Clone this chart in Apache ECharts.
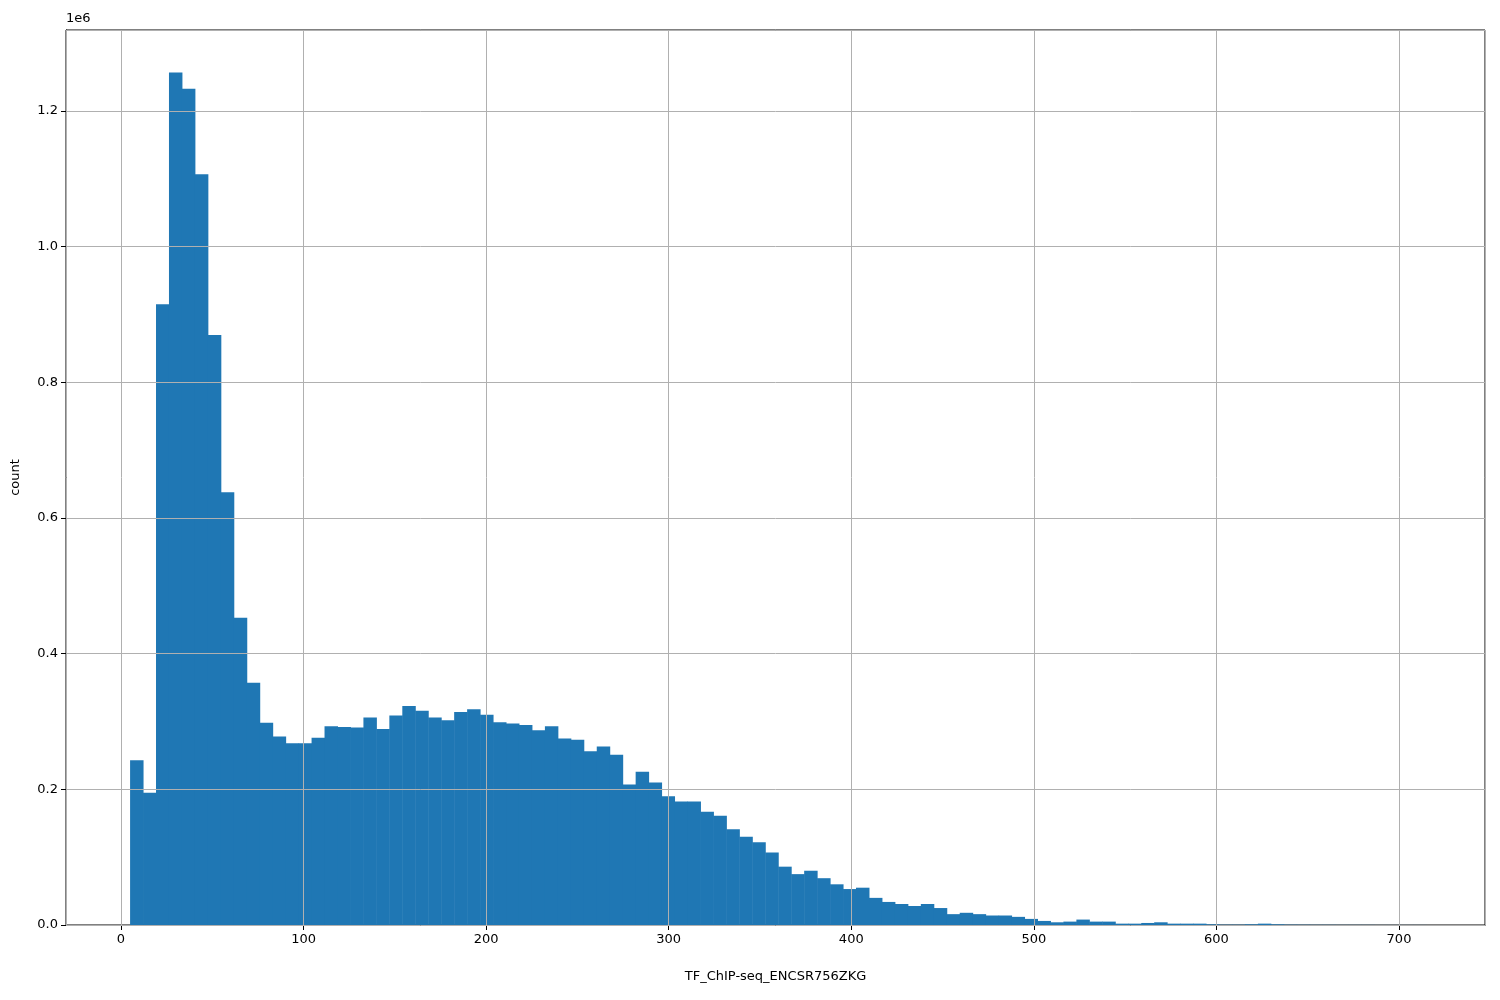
<!DOCTYPE html>
<html>
<head>
<meta charset="utf-8">
<script src="https://cdn.jsdelivr.net/npm/echarts@6/dist/echarts.min.js"></script>
<style>html,body{margin:0;padding:0;background:#fff}</style>
</head>
<body>
<div id="chart" style="width:1500px;height:1000px"></div>
<script>
// histogram bins: 100 equal bins between binLo and binHi
const binLo = 5;
const binHi = 715;
const counts = [
  0.243, 0.195, 0.915, 1.257, 1.233, 1.107, 0.870, 0.638, 0.453, 0.357,
  0.298, 0.278, 0.268, 0.268, 0.276, 0.293, 0.292, 0.291, 0.306, 0.289,
  0.309, 0.323, 0.316, 0.306, 0.302, 0.314, 0.318, 0.310, 0.299, 0.297,
  0.295, 0.287, 0.293, 0.275, 0.273, 0.256, 0.263, 0.251, 0.207, 0.226,
  0.210, 0.190, 0.182, 0.182, 0.167, 0.161, 0.141, 0.130, 0.122, 0.107,
  0.086, 0.075, 0.080, 0.069, 0.060, 0.053, 0.055, 0.040, 0.034, 0.031,
  0.028, 0.031, 0.025, 0.016, 0.018, 0.016, 0.014, 0.014, 0.012, 0.009,
  0.006, 0.004, 0.005, 0.008, 0.005, 0.005, 0.002, 0.002, 0.003, 0.004,
  0.002, 0.002, 0.002, 0.001, 0.0005, 0.0005, 0.001, 0.002, 0.001, 0.0005,
  0.0004, 0.0003, 0.0003, 0.0002, 0.0002, 0.0002, 0.0001, 0.0001, 0.0001, 0.0001
].map(v => v * 1e6);
const xName = 'TF_ChIP-seq_ENCSR756ZKG';
const yName = 'count';

const binW = (binHi - binLo) / counts.length;
const bins = counts.map((c, i) => [binLo + i * binW, binLo + (i + 1) * binW, c]);

const gridBox = {left: 66, right: 15, top: 30, bottom: 75};
const xRange = {min: -30.1, max: 747.1, splitNumber: 8};
const yRange = {min: 0, max: 1.3195e6, interval: 0.2e6};
const gridLine = {show: true, lineStyle: {color: '#b0b0b0', width: 1}};
const font = {fontFamily: 'DejaVu Sans', fontSize: 13, color: '#000'};
const hidden = {axisLine: {show: false}, axisTick: {show: false}, axisLabel: {show: false}};

const chart = echarts.init(document.getElementById('chart'));
chart.setOption({
  animation: false,
  textStyle: {fontFamily: 'DejaVu Sans'},
  grid: [
    Object.assign({show: true, borderColor: '#000', borderWidth: 1, z: 1}, gridBox),
    Object.assign({z: 10}, gridBox)
  ],
  graphic: [{type: 'text', left: 66, top: 12, style: Object.assign({text: '1e6'}, font)}],
  xAxis: [
    Object.assign({type: 'value', gridIndex: 0, name: xName, nameLocation: 'middle', nameGap: 45,
      nameTextStyle: font, splitLine: {show: false},
      axisLine: {onZero: false, lineStyle: {color: '#000'}}, axisTick: {length: 5, lineStyle: {color: '#000'}},
      axisLabel: Object.assign({margin: 8, showMinLabel: false, showMaxLabel: false}, font)}, xRange),
    Object.assign({type: 'value', gridIndex: 1, splitLine: gridLine, z: 10}, hidden, xRange)
  ],
  yAxis: [
    Object.assign({type: 'value', gridIndex: 0, name: yName, nameLocation: 'middle', nameGap: 44,
      nameTextStyle: font, splitLine: {show: false},
      axisLine: {show: true, onZero: false, lineStyle: {color: '#000'}}, axisTick: {show: true, length: 5, lineStyle: {color: '#000'}},
      axisLabel: Object.assign({margin: 8, showMaxLabel: false, formatter: v => (v / 1e6).toFixed(1)}, font)}, yRange),
    Object.assign({type: 'value', gridIndex: 1, splitLine: gridLine, z: 10}, hidden, yRange)
  ],
  series: [{
    type: 'custom',
    xAxisIndex: 0, yAxisIndex: 0,
    data: bins,
    renderItem: (params, api) => {
      const p0 = api.coord([api.value(0), api.value(2)]);
      const p1 = api.coord([api.value(1), 0]);
      return {type: 'rect',
        shape: {x: p0[0], y: p0[1], width: p1[0] - p0[0] + 0.5, height: p1[1] - p0[1]},
        style: {fill: '#1f77b4'}};
    }
  }]
});
</script>
</body>
</html>
